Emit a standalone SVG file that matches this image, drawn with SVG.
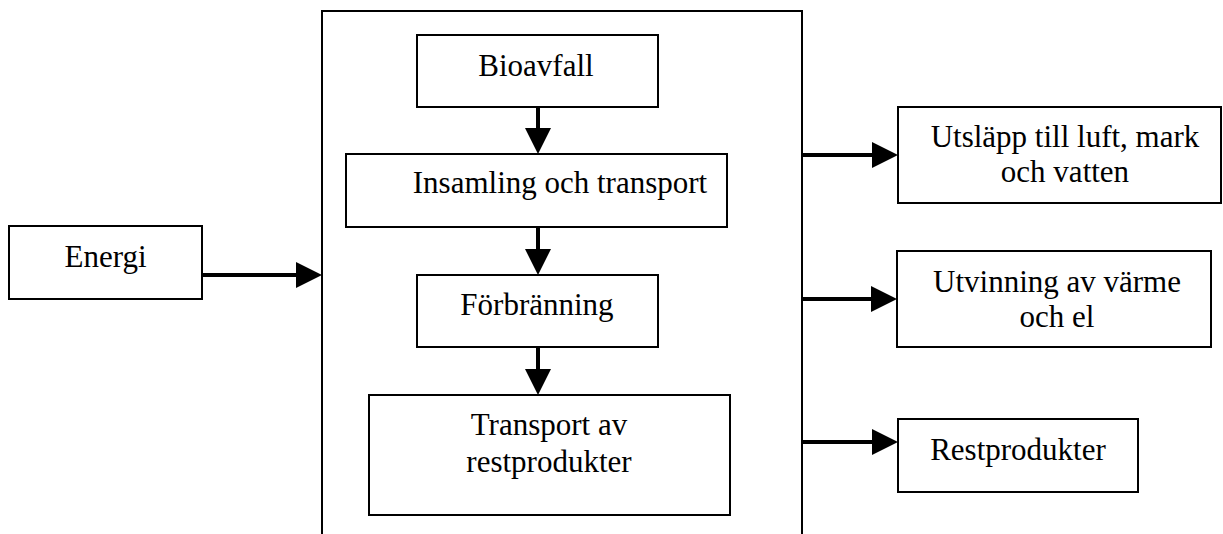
<svg xmlns="http://www.w3.org/2000/svg" width="1223" height="534" viewBox="0 0 1223 534">
  <style>
    .box { fill: #ffffff; stroke: #000000; stroke-width: 2; }
    .frame { fill: none; stroke: #000000; stroke-width: 2; }
    .lbl { font-family: "Liberation Serif", "Times New Roman", serif; font-size: 31px; fill: #000000; text-anchor: middle; }
    .arr { stroke: #000000; stroke-width: 4; fill: none; marker-end: url(#ah); }
  </style>
  <defs>
    <marker id="ah" viewBox="0 0 26 26" refX="0" refY="13" markerWidth="26" markerHeight="26" markerUnits="userSpaceOnUse" orient="auto">
      <path d="M0,0 L26,13 L0,26 z" fill="#000000"/>
    </marker>
  </defs>
  <rect width="1223" height="534" fill="#ffffff"/>

  <g id="system">
    <path class="frame" d="M322,534 V11 H802 V534"/>
  </g>

  <g id="energi">
    <rect class="box" x="9" y="226" width="193" height="73"/>
    <text class="lbl" x="105.5" y="267">Energi</text>
  </g>

  <g id="bioavfall">
    <rect class="box" x="417" y="35" width="241" height="72"/>
    <text class="lbl" x="536" y="76">Bioavfall</text>
  </g>

  <g id="insamling">
    <rect class="box" x="346" y="154" width="381" height="73"/>
    <text class="lbl" x="560" y="193">Insamling och transport</text>
  </g>

  <g id="forbranning">
    <rect class="box" x="417" y="275" width="241" height="72"/>
    <text class="lbl" x="537" y="315">Förbränning</text>
  </g>

  <g id="transport-rest">
    <rect class="box" x="369" y="395" width="361" height="120"/>
    <text class="lbl" x="549" y="435">Transport av</text>
    <text class="lbl" x="549" y="472">restprodukter</text>
  </g>

  <g id="utslapp">
    <rect class="box" x="898" y="107" width="323" height="96"/>
    <text class="lbl" x="1065" y="147">Utsläpp till luft, mark</text>
    <text class="lbl" x="1065" y="182">och vatten</text>
  </g>

  <g id="utvinning">
    <rect class="box" x="897" y="251" width="314" height="96"/>
    <text class="lbl" x="1057" y="292">Utvinning av värme</text>
    <text class="lbl" x="1057" y="327">och el</text>
  </g>

  <g id="restprodukter">
    <rect class="box" x="898" y="419" width="240" height="73"/>
    <text class="lbl" x="1018" y="460">Restprodukter</text>
  </g>

  <g id="connectors">
    <line class="arr" x1="202" y1="275" x2="296" y2="275"/>
    <line class="arr" x1="538" y1="107" x2="538" y2="128"/>
    <line class="arr" x1="538" y1="227" x2="538" y2="249"/>
    <line class="arr" x1="538" y1="347" x2="538" y2="369"/>
    <line class="arr" x1="802" y1="155" x2="872" y2="155"/>
    <line class="arr" x1="802" y1="299" x2="871" y2="299"/>
    <line class="arr" x1="802" y1="442" x2="872" y2="442"/>
  </g>
</svg>
